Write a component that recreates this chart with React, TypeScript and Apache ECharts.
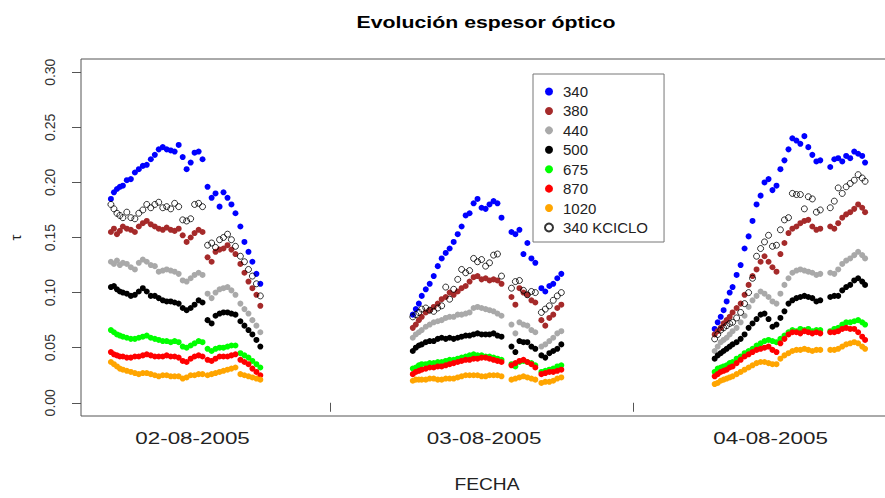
import React, { useEffect, useRef } from "react";
import * as echarts from "echarts";

// Hours counted from 02-08-2005 00:00
const TIMES_D1 = [6.63, 6.87, 7.11, 7.34, 7.58, 7.89, 8.21, 8.53, 8.84, 9.16, 9.47, 9.79, 10.11, 10.42, 10.74, 11.05, 11.37, 11.68, 12.0, 12.32, 12.63, 12.95, 13.26, 13.58, 13.89, 14.29, 14.61, 14.92, 15.24, 15.55, 15.87, 16.18, 16.5, 16.89, 17.21, 17.53, 17.84, 18.16, 18.47];
const TIMES_D2 = [30.55, 30.79, 31.03, 31.26, 31.58, 31.89, 32.21, 32.53, 32.84, 33.16, 33.47, 33.79, 34.11, 34.42, 34.74, 35.05, 35.37, 35.68, 36.0, 36.32, 36.63, 36.95, 37.26, 37.58, 38.37, 38.68, 39.0, 39.32, 39.63, 39.95, 40.26, 40.74, 41.05, 41.37, 41.68, 42.0, 42.32];
const TIMES_D3 = [54.47, 54.71, 54.95, 55.18, 55.42, 55.66, 55.89, 56.21, 56.53, 56.84, 57.16, 57.47, 57.79, 58.11, 58.42, 58.74, 59.05, 59.37, 59.68, 60.0, 60.32, 60.63, 60.95, 61.26, 61.58, 61.89, 62.21, 62.53, 62.84, 63.63, 63.95, 64.26, 64.58, 64.89, 65.21, 65.53, 65.84, 66.16, 66.39];

const TAU340_D1 = [0.185,0.191,0.194,0.196,0.197,0.202,0.203,0.209,0.212,0.215,0.216,0.221,0.225,0.230,0.232,0.230,0.229,0.228,0.234,0.223,0.212,0.218,0.227,0.228,0.221,0.196,0.186,0.190,0.178,0.191,0.186,0.180,0.172,0.160,0.146,0.137,0.128,0.117,0.108];
const TAU380_D1 = [0.155,0.158,0.153,0.156,0.160,0.158,0.157,0.155,0.160,0.163,0.165,0.162,0.160,0.158,0.157,0.159,0.157,0.156,0.158,0.152,0.146,0.150,0.154,0.157,0.155,0.132,0.128,0.137,0.139,0.140,0.143,0.139,0.135,0.126,0.118,0.110,0.104,0.098,0.088];
const TAU440_D1 = [0.128,0.126,0.129,0.125,0.127,0.126,0.123,0.121,0.127,0.130,0.128,0.125,0.124,0.119,0.120,0.121,0.120,0.119,0.117,0.111,0.110,0.113,0.116,0.118,0.116,0.099,0.095,0.100,0.103,0.104,0.105,0.102,0.098,0.090,0.085,0.081,0.075,0.070,0.064];
const TAU500_D1 = [0.105,0.106,0.103,0.101,0.100,0.099,0.097,0.098,0.101,0.104,0.101,0.097,0.097,0.095,0.093,0.092,0.092,0.091,0.090,0.086,0.084,0.086,0.089,0.093,0.091,0.075,0.072,0.079,0.081,0.082,0.082,0.081,0.080,0.074,0.070,0.066,0.062,0.057,0.051];
const TAU675_D1 = [0.066,0.064,0.062,0.061,0.060,0.059,0.058,0.058,0.059,0.060,0.061,0.059,0.058,0.057,0.056,0.056,0.055,0.056,0.055,0.051,0.050,0.052,0.054,0.056,0.055,0.049,0.047,0.049,0.050,0.050,0.051,0.052,0.052,0.045,0.043,0.041,0.038,0.035,0.032];
const TAU870_D1 = [0.046,0.044,0.043,0.042,0.042,0.041,0.041,0.042,0.042,0.043,0.044,0.043,0.042,0.042,0.042,0.043,0.042,0.042,0.041,0.038,0.037,0.040,0.042,0.043,0.042,0.039,0.038,0.040,0.042,0.042,0.042,0.043,0.044,0.039,0.037,0.035,0.031,0.028,0.025];
const TAU1020_D1 = [0.037,0.035,0.033,0.031,0.030,0.029,0.028,0.027,0.026,0.027,0.027,0.026,0.025,0.024,0.025,0.025,0.024,0.024,0.024,0.022,0.023,0.025,0.025,0.026,0.026,0.025,0.026,0.027,0.028,0.029,0.030,0.031,0.032,0.026,0.025,0.024,0.023,0.022,0.021];
const KCICLO_D1 = [0.180,0.176,0.172,0.170,0.168,0.173,0.168,0.167,0.172,0.175,0.180,0.177,0.180,0.182,0.177,0.178,0.176,0.181,0.178,0.166,0.165,0.167,0.180,0.181,0.178,0.143,0.145,0.141,0.148,0.150,0.153,0.148,0.142,0.133,0.128,0.121,0.115,0.108,0.097];

const TAU340_D2 = [0.080,0.085,0.090,0.097,0.103,0.108,0.115,0.124,0.131,0.136,0.140,0.146,0.153,0.160,0.170,0.172,0.181,0.185,0.177,0.176,0.180,0.183,0.181,0.168,0.155,0.153,0.157,0.135,0.145,0.131,0.127,0.104,0.101,0.106,0.108,0.113,0.117];
const TAU380_D2 = [0.068,0.071,0.075,0.078,0.082,0.084,0.087,0.090,0.094,0.096,0.100,0.098,0.101,0.104,0.106,0.110,0.114,0.115,0.112,0.113,0.111,0.112,0.111,0.108,0.096,0.089,0.104,0.100,0.098,0.093,0.091,0.075,0.070,0.077,0.080,0.086,0.089];
const TAU440_D2 = [0.059,0.062,0.064,0.066,0.069,0.071,0.073,0.074,0.075,0.077,0.078,0.078,0.080,0.080,0.081,0.082,0.086,0.087,0.086,0.085,0.084,0.083,0.081,0.079,0.071,0.063,0.073,0.071,0.070,0.066,0.064,0.051,0.053,0.056,0.059,0.063,0.065];
const TAU500_D2 = [0.047,0.050,0.052,0.053,0.055,0.056,0.056,0.058,0.059,0.058,0.059,0.058,0.059,0.060,0.061,0.061,0.062,0.063,0.062,0.062,0.062,0.063,0.061,0.060,0.051,0.046,0.056,0.055,0.055,0.051,0.049,0.043,0.041,0.045,0.047,0.049,0.053];
const TAU675_D2 = [0.031,0.032,0.034,0.035,0.035,0.036,0.036,0.037,0.037,0.038,0.039,0.039,0.040,0.041,0.042,0.043,0.044,0.043,0.043,0.042,0.042,0.041,0.040,0.039,0.035,0.033,0.037,0.038,0.037,0.036,0.034,0.028,0.029,0.030,0.031,0.033,0.034];
const TAU870_D2 = [0.026,0.028,0.029,0.030,0.031,0.032,0.032,0.033,0.033,0.034,0.035,0.036,0.037,0.038,0.039,0.039,0.040,0.040,0.041,0.041,0.040,0.039,0.038,0.037,0.034,0.036,0.038,0.039,0.037,0.035,0.032,0.026,0.027,0.028,0.028,0.029,0.030];
const TAU1020_D2 = [0.020,0.021,0.021,0.021,0.021,0.022,0.022,0.021,0.021,0.022,0.022,0.022,0.023,0.024,0.025,0.025,0.025,0.025,0.024,0.024,0.025,0.025,0.025,0.024,0.021,0.022,0.023,0.024,0.023,0.022,0.021,0.018,0.019,0.019,0.020,0.022,0.023];
const KCICLO_D2 = [0.078,0.080,0.082,0.085,0.086,0.084,0.083,0.086,0.088,0.105,0.094,0.103,0.112,0.121,0.118,0.120,0.131,0.128,0.130,0.124,0.127,0.134,0.135,0.115,0.104,0.110,0.111,0.102,0.098,0.101,0.100,0.082,0.085,0.088,0.093,0.097,0.100];

const TAU340_D3 = [0.067,0.073,0.078,0.084,0.092,0.100,0.105,0.116,0.125,0.140,0.151,0.165,0.180,0.188,0.200,0.203,0.193,0.197,0.212,0.220,0.230,0.240,0.238,0.235,0.242,0.232,0.225,0.219,0.220,0.214,0.221,0.222,0.219,0.224,0.222,0.228,0.226,0.224,0.218];
const TAU380_D3 = [0.062,0.065,0.068,0.072,0.075,0.078,0.082,0.086,0.090,0.098,0.107,0.115,0.121,0.128,0.133,0.128,0.123,0.119,0.135,0.145,0.154,0.158,0.160,0.163,0.165,0.166,0.160,0.157,0.158,0.160,0.158,0.163,0.168,0.171,0.173,0.176,0.180,0.177,0.173];
const TAU440_D3 = [0.047,0.051,0.055,0.057,0.059,0.062,0.065,0.068,0.073,0.079,0.087,0.093,0.097,0.101,0.099,0.096,0.092,0.090,0.099,0.107,0.113,0.118,0.120,0.121,0.120,0.119,0.118,0.116,0.117,0.118,0.117,0.121,0.126,0.129,0.131,0.134,0.137,0.134,0.131];
const TAU500_D3 = [0.040,0.043,0.045,0.047,0.049,0.051,0.053,0.055,0.058,0.062,0.068,0.072,0.076,0.080,0.081,0.076,0.069,0.071,0.077,0.083,0.090,0.093,0.095,0.096,0.097,0.096,0.095,0.092,0.093,0.096,0.097,0.097,0.102,0.105,0.107,0.111,0.113,0.110,0.107];
const TAU675_D3 = [0.028,0.031,0.032,0.033,0.034,0.036,0.037,0.040,0.042,0.045,0.047,0.049,0.052,0.054,0.056,0.057,0.056,0.055,0.058,0.061,0.064,0.066,0.065,0.067,0.066,0.067,0.065,0.066,0.066,0.065,0.067,0.068,0.071,0.073,0.073,0.074,0.075,0.073,0.071];
const TAU870_D3 = [0.024,0.026,0.028,0.029,0.030,0.032,0.033,0.036,0.039,0.042,0.044,0.046,0.048,0.049,0.050,0.051,0.048,0.046,0.054,0.058,0.062,0.064,0.064,0.063,0.065,0.064,0.063,0.064,0.063,0.064,0.064,0.065,0.067,0.068,0.067,0.067,0.064,0.060,0.057];
const TAU1020_D3 = [0.017,0.018,0.020,0.021,0.022,0.023,0.024,0.026,0.028,0.030,0.032,0.034,0.036,0.037,0.037,0.036,0.035,0.035,0.040,0.043,0.045,0.047,0.048,0.048,0.049,0.048,0.047,0.048,0.048,0.048,0.048,0.049,0.051,0.053,0.054,0.055,0.054,0.051,0.049];
const KCICLO_D3 = [0.058,0.062,0.066,0.068,0.070,0.072,0.073,0.077,0.082,0.090,0.100,0.113,0.133,0.140,0.146,0.152,0.142,0.143,0.157,0.166,0.168,0.190,0.189,0.189,0.176,0.187,0.185,0.173,0.175,0.177,0.183,0.195,0.190,0.196,0.199,0.202,0.207,0.204,0.201];

const SERIES_NAMES = ["340", "380", "440", "500", "675", "870", "1020", "340 KCICLO"];
const SERIES_COLORS = ["#0000FF", "#A52A2A", "#A9A9A9", "#000000", "#00FF00", "#FF0000", "#FFA500", "#000000"];
const DAY_TIMES = [TIMES_D1, TIMES_D2, TIMES_D3];
const SERIES_VALUES = [
  [TAU340_D1, TAU340_D2, TAU340_D3],
  [TAU380_D1, TAU380_D2, TAU380_D3],
  [TAU440_D1, TAU440_D2, TAU440_D3],
  [TAU500_D1, TAU500_D2, TAU500_D3],
  [TAU675_D1, TAU675_D2, TAU675_D3],
  [TAU870_D1, TAU870_D2, TAU870_D3],
  [TAU1020_D1, TAU1020_D2, TAU1020_D3],
  [KCICLO_D1, KCICLO_D2, KCICLO_D3],
];

const Y_TICKS = [0, 0.05, 0.1, 0.15, 0.2, 0.25, 0.3];
const DAY_BOUNDS = [24, 48];
const DAY_LABELS = ["02-08-2005", "03-08-2005", "04-08-2005"];
const DAY_LABEL_HOURS = [13.1, 36.2, 58.9];
const TITLE = "Evolución espesor óptico";
const X_NAME = "FECHA";
const Y_NAME = "τ";

const FONT = '"Liberation Sans", Arial, Helvetica, sans-serif';

export default function App() {
  const ref = useRef<HTMLDivElement>(null);
  useEffect(() => {
    if (!ref.current) return;
    const chart = echarts.init(ref.current, null, { renderer: "svg" });
    const series = SERIES_NAMES.map((name, i) => {
      const open = i === 7;
      const data: number[][] = [];
      DAY_TIMES.forEach((times, d) => {
        times.forEach((t, j) => data.push([t, SERIES_VALUES[i][d][j]]));
      });
      return {
        name,
        type: "scatter",
        data,
        symbol: "circle",
        symbolSize: 6,
        itemStyle: open
          ? { color: "rgba(255,255,255,0)", borderColor: "#000", borderWidth: 1 }
          : { color: SERIES_COLORS[i], opacity: 1 },
        emphasis: { disabled: true },
        silent: true,
      };
    });
    chart.setOption({
      animation: false,
      grid: {
        left: 78,
        top: 59,
        right: 5,
        bottom: 82,
        show: true,
        borderColor: "#555",
        borderWidth: 1,
        backgroundColor: "rgba(0,0,0,0)",
      },
      xAxis: {
        type: "value",
        min: 4.26,
        max: 68.76,
        axisLine: { show: false },
        splitLine: { show: false },
        axisTick: { show: true, customValues: DAY_BOUNDS, length: 9, lineStyle: { color: "#555" } },
        axisLabel: { show: false },
      },
      yAxis: {
        type: "value",
        min: -0.012,
        max: 0.312,
        axisLine: { show: false },
        splitLine: { show: false },
        axisTick: { show: true, customValues: Y_TICKS, length: 9, lineStyle: { color: "#555" } },
        axisLabel: {
          customValues: Y_TICKS,
          rotate: 90,
          formatter: (v: number) => v.toFixed(2),
          fontSize: 14,
          fontFamily: FONT,
          color: "#333",
          margin: 24,
        },
        name: Y_NAME,
        nameLocation: "middle",
        nameGap: 58,
        nameRotate: 90,
        nameTextStyle: { fontSize: 15, fontFamily: FONT, color: "#222" },
      },
      legend: {
        orient: "vertical",
        left: 533,
        top: 74,
        data: SERIES_NAMES.map((n) => ({ name: n, icon: "circle" })),
        itemWidth: 8,
        itemHeight: 8,
        itemGap: 0.43,
        padding: [8, 16, 5, 11],
        borderColor: "#777",
        borderWidth: 1,
        backgroundColor: "#fff",
        selectedMode: false,
        textStyle: { fontSize: 15, fontFamily: FONT, color: "#222", lineHeight: 19, padding: [0, 0, 0, 5] },
      },
      series,
    });
    const labelXs = DAY_LABEL_HOURS.map((h) => chart.convertToPixel({ xAxisIndex: 0 }, h) as number);
    const txt = (text: string, x: number, y: number, size: number, scaleX: number, weight = "normal", fill = "#222") => ({
      type: "text",
      x,
      y,
      scaleX,
      silent: true,
      style: {
        text,
        fontSize: size,
        fontFamily: FONT,
        fontWeight: weight,
        fill,
        textAlign: "center",
        align: "center",
        textVerticalAlign: "middle",
        verticalAlign: "middle",
      },
    });
    chart.setOption({
      graphic: [
        txt(TITLE, 486, 22, 16, 1.33, "bold", "#000"),
        ...labelXs.map((x, i) => txt(DAY_LABELS[i], x, 438, 16, 1.4)),
        txt(X_NAME, 487, 485, 16, 1.2),
      ],
    });
    return () => chart.dispose();
  }, []);
  return (
    <div style={{ position: "fixed", left: 0, top: 0, width: 885, height: 498, overflow: "hidden", background: "#fff" }}>
      <div ref={ref} style={{ width: 900, height: 498 }} />
    </div>
  );
}
